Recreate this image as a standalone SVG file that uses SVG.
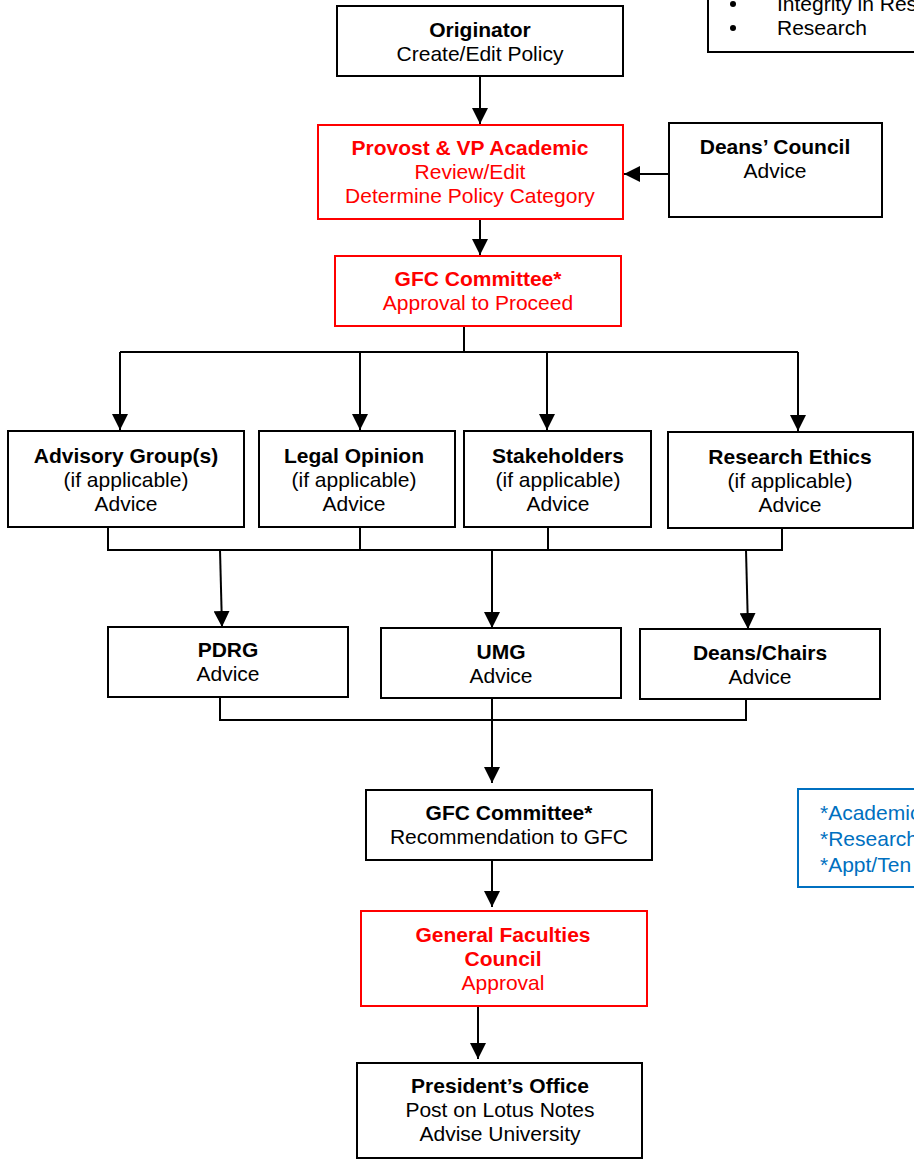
<svg xmlns="http://www.w3.org/2000/svg" width="914" height="1160" viewBox="0 0 914 1160">
<defs>
<style>
text{font-family:"Liberation Sans",Arial,sans-serif;font-size:21px;fill:#000;text-anchor:middle}
.b{font-weight:bold}
.r{fill:#ff0000}
.blue{fill:#0070c0;text-anchor:start}
.lg{text-anchor:start}
rect.k{fill:#fff;stroke:#000;stroke-width:2}
rect.rd{fill:#fff;stroke:#ff0000;stroke-width:2}
.c{fill:none;stroke:#000;stroke-width:2}
</style>
<marker id="ah" markerUnits="userSpaceOnUse" markerWidth="16" markerHeight="16" refX="16" refY="8" orient="auto" viewBox="0 0 16 16">
<path d="M0,0 L16,8 L0,16 z" fill="#000"/>
</marker>
</defs>
<rect width="914" height="1160" fill="#fff"/>

<g id="legend-top">
<rect x="708" y="-10" width="220" height="62" fill="#fff" stroke="#000" stroke-width="2"/>
<circle cx="733" cy="4" r="3" fill="#000"/>
<circle cx="733" cy="28" r="3" fill="#000"/>
<text class="lg" x="777" y="11">Integrity in Res</text>
<text class="lg" x="777" y="35">Research</text>
</g>

<g id="legend-blue">
<rect x="798" y="789" width="130" height="98" fill="#fff" stroke="#0070c0" stroke-width="2"/>
<text class="blue" x="820" y="820">*Academic</text>
<text class="blue" x="820" y="846">*Research</text>
<text class="blue" x="820" y="872">*Appt/Ten</text>
</g>

<g id="connectors">
<line class="c" x1="480" y1="76" x2="480" y2="124" marker-end="url(#ah)"/>
<line class="c" x1="669" y1="174" x2="624" y2="174" marker-end="url(#ah)"/>
<line class="c" x1="480" y1="219" x2="480" y2="255" marker-end="url(#ah)"/>
<polyline class="c" points="464,326 464,352"/>
<polyline class="c" points="120,352 798,352"/>
<line class="c" x1="120" y1="352" x2="120" y2="430" marker-end="url(#ah)"/>
<line class="c" x1="360" y1="352" x2="360" y2="430" marker-end="url(#ah)"/>
<line class="c" x1="547" y1="352" x2="547" y2="430" marker-end="url(#ah)"/>
<line class="c" x1="798" y1="352" x2="798" y2="431" marker-end="url(#ah)"/>
<polyline class="c" points="108,527 108,550 782,550 782,528"/>
<line class="c" x1="360" y1="527" x2="360" y2="550"/>
<line class="c" x1="548" y1="527" x2="548" y2="550"/>
<line class="c" x1="220" y1="550" x2="222" y2="627" marker-end="url(#ah)"/>
<line class="c" x1="492" y1="550" x2="492" y2="628" marker-end="url(#ah)"/>
<line class="c" x1="746" y1="550" x2="748" y2="629" marker-end="url(#ah)"/>
<polyline class="c" points="220,697 220,720 746,720 746,699"/>
<line class="c" x1="492" y1="698" x2="492" y2="783" marker-end="url(#ah)"/>
<line class="c" x1="492" y1="853" x2="492" y2="907" marker-end="url(#ah)"/>
<line class="c" x1="478" y1="1003" x2="478" y2="1059" marker-end="url(#ah)"/>
</g>

<g id="originator">
<rect class="k" x="337" y="6" width="286" height="70"/>
<text class="b" x="480" y="37">Originator</text>
<text x="480" y="61">Create/Edit Policy</text>
</g>

<g id="provost">
<rect class="rd" x="318" y="125" width="305" height="94"/>
<text class="b r" x="470" y="155">Provost &amp; VP Academic</text>
<text class="r" x="470" y="179">Review/Edit</text>
<text class="r" x="470" y="203">Determine Policy Category</text>
</g>

<g id="deans-council">
<rect class="k" x="669" y="123" width="213" height="94"/>
<text class="b" x="775" y="154">Deans’ Council</text>
<text x="775" y="178">Advice</text>
</g>

<g id="gfc-committee-1">
<rect class="rd" x="335" y="256" width="286" height="70"/>
<text class="b r" x="478" y="286">GFC Committee*</text>
<text class="r" x="478" y="310">Approval to Proceed</text>
</g>

<g id="advisory">
<rect class="k" x="8" y="431" width="236" height="96"/>
<text class="b" x="126" y="463">Advisory Group(s)</text>
<text x="126" y="487">(if applicable)</text>
<text x="126" y="511">Advice</text>
</g>

<g id="legal">
<rect class="k" x="259" y="431" width="196" height="96"/>
<text class="b" x="354" y="463">Legal Opinion</text>
<text x="354" y="487">(if applicable)</text>
<text x="354" y="511">Advice</text>
</g>

<g id="stakeholders">
<rect class="k" x="464" y="431" width="187" height="96"/>
<text class="b" x="558" y="463">Stakeholders</text>
<text x="558" y="487">(if applicable)</text>
<text x="558" y="511">Advice</text>
</g>

<g id="research-ethics">
<rect class="k" x="668" y="432" width="245" height="96"/>
<text class="b" x="790" y="464">Research Ethics</text>
<text x="790" y="488">(if applicable)</text>
<text x="790" y="512">Advice</text>
</g>

<g id="pdrg">
<rect class="k" x="108" y="627" width="240" height="70"/>
<text class="b" x="228" y="657">PDRG</text>
<text x="228" y="681">Advice</text>
</g>

<g id="umg">
<rect class="k" x="381" y="628" width="240" height="70"/>
<text class="b" x="501" y="659">UMG</text>
<text x="501" y="683">Advice</text>
</g>

<g id="deans-chairs">
<rect class="k" x="640" y="629" width="240" height="70"/>
<text class="b" x="760" y="660">Deans/Chairs</text>
<text x="760" y="684">Advice</text>
</g>

<g id="gfc-committee-2">
<rect class="k" x="366" y="790" width="286" height="70"/>
<text class="b" x="509" y="820">GFC Committee*</text>
<text x="509" y="844">Recommendation to GFC</text>
</g>

<g id="gfc">
<rect class="rd" x="361" y="911" width="286" height="95"/>
<text class="b r" x="503" y="942">General Faculties</text>
<text class="b r" x="503" y="966">Council</text>
<text class="r" x="503" y="990">Approval</text>
</g>

<g id="president">
<rect class="k" x="357" y="1063" width="285" height="95"/>
<text class="b" x="500" y="1093">President’s Office</text>
<text x="500" y="1117">Post on Lotus Notes</text>
<text x="500" y="1141">Advise University</text>
</g>
</svg>
